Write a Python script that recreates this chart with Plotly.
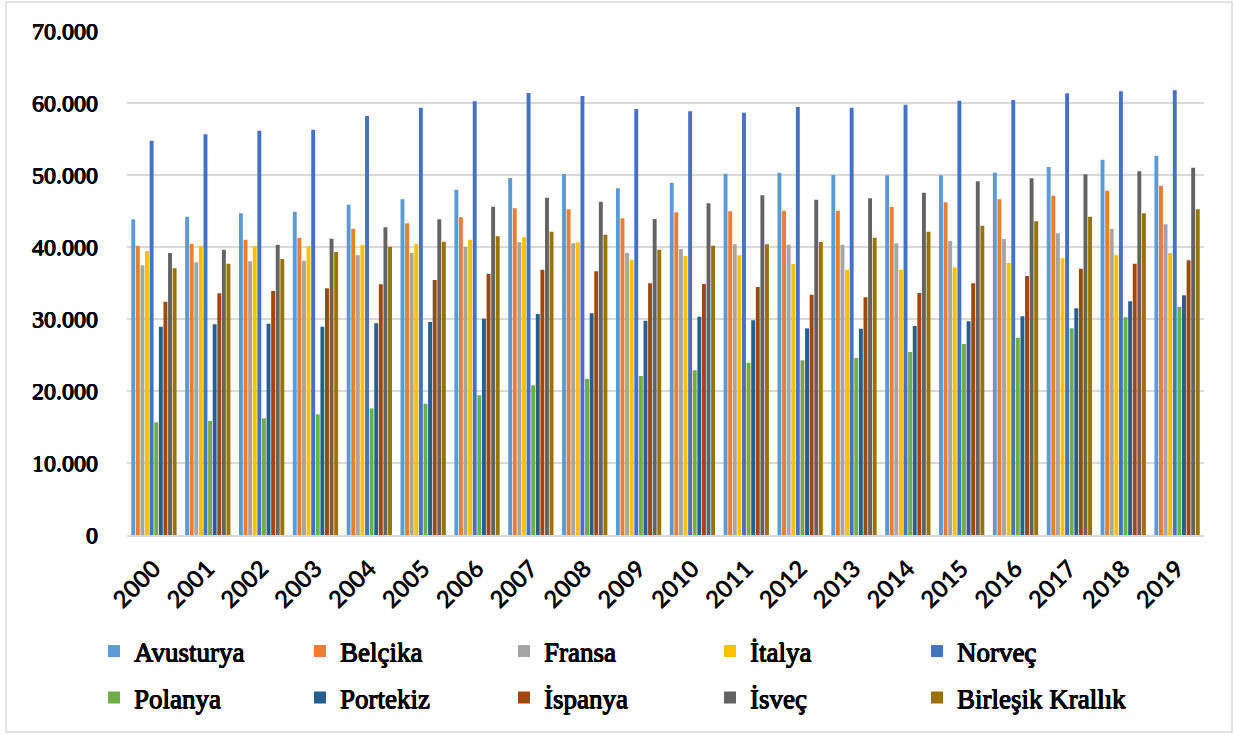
import plotly.graph_objects as go

# Yearly values per country
years = [str(y) for y in range(2000, 2020)]

avusturya = [43840, 44210, 44680, 44910, 45880, 46620, 47960, 49580, 50140, 48150,
             48940, 50190, 50320, 50000, 49950, 49950, 50320, 51110, 52130, 52690]
belcika = [40190, 40460, 41020, 41250, 42550, 43290, 44120, 45370, 45230, 43980,
           44810, 44950, 45050, 45050, 45560, 46200, 46620, 47130, 47820, 48520]
fransa = [37450, 37870, 38010, 38100, 38840, 39210, 40000, 40650, 40510, 39170,
          39720, 40370, 40320, 40320, 40510, 40830, 41110, 41900, 42500, 43150]
italya = [39440, 40190, 40190, 40090, 40320, 40420, 41020, 41340, 40650, 38240,
          38750, 38840, 37640, 36850, 36850, 37180, 37780, 38430, 38840, 39170]
norvec = [54770, 55650, 56160, 56300, 58190, 59350, 60230, 61390, 60970, 59170,
          58840, 58660, 59440, 59350, 59770, 60320, 60420, 61340, 61620, 61760]
polanya = [15650, 15830, 16200, 16760, 17590, 18240, 19400, 20790, 21670, 22080,
           22870, 23940, 24260, 24580, 25420, 26530, 27410, 28700, 30230, 31710]
portekiz = [28940, 29260, 29350, 28940, 29400, 29580, 30050, 30690, 30790, 29770,
            30320, 29810, 28700, 28660, 29030, 29680, 30370, 31480, 32450, 33290]
ispanya = [32410, 33560, 33890, 34260, 34810, 35420, 36300, 36850, 36620, 34950,
           34860, 34440, 33380, 33010, 33610, 34950, 35970, 36990, 37690, 38150]
isvec = [39170, 39630, 40320, 41160, 42730, 43840, 45600, 46850, 46300, 43890,
         46060, 47180, 46570, 46760, 47550, 49120, 49540, 50090, 50510, 51020]
birlesik_krallik = [37040, 37690, 38330, 39310, 40050, 40740, 41480, 42130, 41710, 39630,
                    40190, 40370, 40690, 41300, 42130, 42960, 43560, 44210, 44680, 45230]

countries = ["Avusturya", "Belçika", "Fransa", "İtalya", "Norveç",
             "Polanya", "Portekiz", "İspanya", "İsveç", "Birleşik Krallık"]
series = [avusturya, belcika, fransa, italya, norvec,
          polanya, portekiz, ispanya, isvec, birlesik_krallik]
colors = ["#5B9BD5", "#ED7D31", "#A5A5A5", "#FFC000", "#4472C4",
          "#70AD47", "#255E91", "#9E480E", "#636363", "#997300"]

y_tickvals = [0, 10000, 20000, 30000, 40000, 50000, 60000, 70000]
y_ticktext = ["0", "10.000", "20.000", "30.000", "40.000", "50.000", "60.000", "70.000"]

# Page geometry
W, H = 1233, 735
ML, MR, MT, MB = 127, 29, 31, 200
PW, PH = W - ML - MR, H - MT - MB


def px_x(px):
    return (px - ML) / PW


def px_y(py):
    return (H - MB - py) / PH


SERIF = "Liberation Serif"
# heavier strokes for the serif labels
HEAVY = "0.6px 0 0 black, -0.6px 0 0 black, 0 0.45px 0 black, 0 -0.3px 0 black"

# Legend grid: 5 columns x 2 rows (left x, row centre y)
legend_cols = [94, 300, 504, 710, 917]
legend_rows = [651.5, 698]

fig = go.Figure()
layout_legends = {}
for i, (name, vals, col) in enumerate(zip(countries, series, colors)):
    key = "legend" if i == 0 else f"legend{i + 1}"
    fig.add_trace(go.Bar(
        x=years, y=vals, name=name,
        marker=dict(color=col, line=dict(width=0)),
        legend=key,
    ))
    layout_legends[key] = dict(
        x=px_x(legend_cols[i % 5]), xanchor="left",
        y=px_y(legend_rows[i // 5]), yanchor="middle",
        font=dict(family=SERIF, size=27, color="black", shadow=HEAVY),
        bgcolor="rgba(0,0,0,0)",
    )

fig.update_layout(
    width=W, height=H,
    margin=dict(l=ML, r=MR, t=MT, b=MB),
    paper_bgcolor="white", plot_bgcolor="white",
    barmode="group", bargap=0.146, bargroupgap=0.15,
    xaxis=dict(
        type="category",
        tickangle=-45,
        tickfont=dict(family="Lato", size=24, color="black", weight="bold"),
        showgrid=False,
        showline=True, linecolor="#D9D9D9", linewidth=2,
        ticks="", ticklabelstandoff=8,
    ),
    yaxis=dict(
        range=[0, 70000],
        tickvals=y_tickvals, ticktext=y_ticktext,
        tickfont=dict(family=SERIF, size=24, color="black", shadow=HEAVY),
        showgrid=True, gridcolor="#D9D9D9", gridwidth=1.5,
        zeroline=False, showline=False,
        ticks="", ticklabelstandoff=28,
    ),
    showlegend=True,
    **layout_legends,
)

# Chart-area border
fig.add_shape(
    type="rect", xref="paper", yref="paper",
    x0=px_x(6), x1=px_x(1232), y0=px_y(732), y1=px_y(2),
    line=dict(color="#D9D9D9", width=1.5), fillcolor="rgba(0,0,0,0)",
    layer="below",
)

fig.write_html("out.html")
